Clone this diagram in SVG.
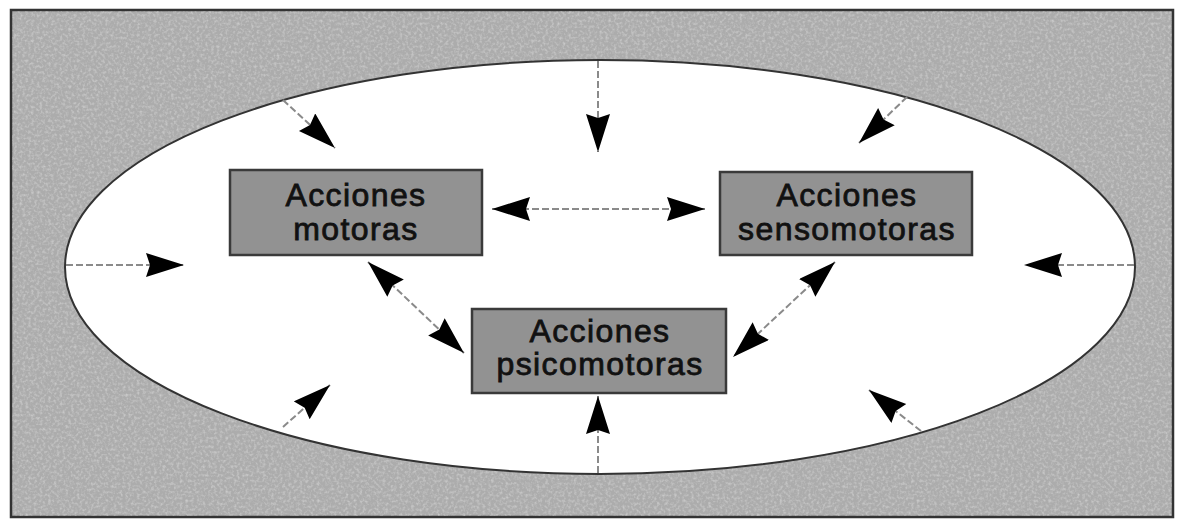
<svg xmlns="http://www.w3.org/2000/svg" width="1177" height="519" viewBox="0 0 1177 519">
<style>
.box{fill:#929292;stroke:#3a3a3a;stroke-width:2.5}
.lbl{font-family:"Liberation Sans",Arial,sans-serif;font-size:32px;letter-spacing:1.4px;fill:#111;stroke:#111;stroke-width:0.8;text-anchor:middle}
.con{stroke:#8a8a8a;stroke-width:2;fill:none;stroke-dasharray:7 3}
</style>
<defs>
<marker id="ah" markerUnits="userSpaceOnUse" markerWidth="42" markerHeight="28" refX="38" refY="12" orient="auto-start-reverse">
<path d="M0,0 L38,12 L0,24 L4,12 z" fill="#000"/>
</marker>
<filter id="noise" x="0" y="0" width="100%" height="100%">
<feTurbulence type="fractalNoise" baseFrequency="0.35" numOctaves="2" seed="3"/>
<feColorMatrix type="matrix" values="0 0 0 0 1  0 0 0 0 1  0 0 0 0 1  0 0 0 -2.2 1.25"/>
</filter>
</defs>
<rect width="1177" height="519" fill="#fff"/>
<g id="background">
<rect x="11" y="10" width="1162" height="507" fill="#acacac" stroke="#333" stroke-width="2.5"/>
<rect x="12" y="11" width="1160" height="505" filter="url(#noise)" opacity="0.35"/>
<ellipse cx="600" cy="267" rx="535" ry="207" fill="#fff" stroke="#333" stroke-width="2"/>
</g>
<g id="connectors">
<line class="con" x1="283" y1="100" x2="335" y2="148" marker-end="url(#ah)"/>
<line class="con" x1="598" y1="61" x2="598" y2="152" marker-end="url(#ah)"/>
<line class="con" x1="907" y1="97" x2="859" y2="143" marker-end="url(#ah)"/>
<line class="con" x1="66" y1="265" x2="184" y2="265" marker-end="url(#ah)"/>
<line class="con" x1="1134" y1="265" x2="1024" y2="265" marker-end="url(#ah)"/>
<line class="con" x1="283" y1="427" x2="330" y2="385" marker-end="url(#ah)"/>
<line class="con" x1="598" y1="473" x2="598" y2="396" marker-end="url(#ah)"/>
<line class="con" x1="921" y1="431" x2="869" y2="390" marker-end="url(#ah)"/>
<line class="con" x1="492" y1="209" x2="705" y2="209" marker-start="url(#ah)" marker-end="url(#ah)"/>
<line class="con" x1="368" y1="262" x2="464" y2="353" marker-start="url(#ah)" marker-end="url(#ah)"/>
<line class="con" x1="835" y1="262" x2="733" y2="357" marker-start="url(#ah)" marker-end="url(#ah)"/>
</g>
<g id="motoras">
<rect class="box" x="230" y="170" width="252" height="85"/>
<text class="lbl" x="356" y="206">Acciones</text>
<text class="lbl" x="356" y="240">motoras</text>
</g>
<g id="sensomotoras">
<rect class="box" x="720" y="172" width="252" height="83"/>
<text class="lbl" x="847" y="206">Acciones</text>
<text class="lbl" x="847" y="240">sensomotoras</text>
</g>
<g id="psicomotoras">
<rect class="box" x="472" y="309" width="254" height="84"/>
<text class="lbl" x="600" y="342">Acciones</text>
<text class="lbl" x="600" y="375">psicomotoras</text>
</g>
</svg>
